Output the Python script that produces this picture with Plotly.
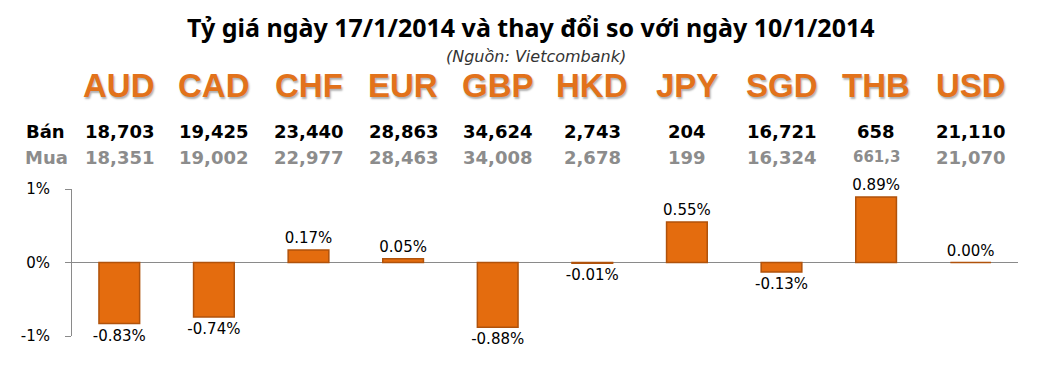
import plotly.graph_objects as go

currencies = ["AUD", "CAD", "CHF", "EUR", "GBP", "HKD", "JPY", "SGD", "THB", "USD"]
sell_rates = ["18,703", "19,425", "23,440", "28,863", "34,624", "2,743", "204", "16,721", "658", "21,110"]
buy_rates = ["18,351", "19,002", "22,977", "28,463", "34,008", "2,678", "199", "16,324", "661,3", "21,070"]
change_pct = [-0.83, -0.74, 0.17, 0.05, -0.88, -0.01, 0.55, -0.13, 0.89, 0.00]
tick_vals = [-1, 0, 1]
tick_text = ["-1%", "0%", "1%"]

W, H = 1050, 380
ML, MR, MT, MB = 72, 32, 189, 44
PH = H - MT - MB
PW = W - ML - MR

def py(px):
    return (H - MB - px) / PH

def pxx(px):
    return (px - ML) / PW

fig = go.Figure()
fig.add_trace(go.Bar(
    x=currencies, y=change_pct,
    marker=dict(color="#E46C0E", line=dict(color="#B0520B", width=1.5)),
    width=0.43,
    text=[f"{v:.2f}%" for v in change_pct],
    textposition="outside",
    constraintext="none",
    cliponaxis=False,
    textfont=dict(family="DejaVu Sans", size=15, color="#000000"),
    hoverinfo="skip",
))

annotations = []
annotations.append(dict(text="<b>Tỷ giá ngày 17/1/2014 và thay đổi so với ngày 10/1/2014</b>",
                        xref="paper", yref="paper", x=pxx(531), y=py(27), showarrow=False,
                        xanchor="center", yanchor="middle",
                        font=dict(family="Noto Sans", size=25, color="#000000")))
annotations.append(dict(text="<i>(Nguồn: Vietcombank)</i>",
                        xref="paper", yref="paper", x=pxx(536), y=py(56), showarrow=False,
                        xanchor="center", yanchor="middle",
                        font=dict(family="DejaVu Sans", size=16, color="#333333")))
for c, s, b in zip(currencies, sell_rates, buy_rates):
    annotations.append(dict(text=f"<b>{c}</b>", xref="x", yref="paper", x=c, y=py(85),
                            showarrow=False, xanchor="center", yanchor="middle",
                            font=dict(family="Liberation Sans", size=33, color="#E2721B",
                                      shadow="1px 2px 2px #B0B0B0")))
    annotations.append(dict(text=f"<b>{s}</b>", xref="x", yref="paper", x=c, y=py(131),
                            showarrow=False, xanchor="center", yanchor="middle",
                            font=dict(family="DejaVu Sans", size=18, color="#000000")))
    bsize = 15 if len(b.split(",")[-1]) == 1 else 18
    annotations.append(dict(text=f"<b>{b}</b>", xref="x", yref="paper", x=c, y=py(157),
                            showarrow=False, xanchor="center", yanchor="middle",
                            font=dict(family="DejaVu Sans", size=bsize, color="#8C8C8C")))
annotations.append(dict(text="<b>Bán</b>", xref="paper", yref="paper", x=pxx(24), y=py(131),
                        showarrow=False, xanchor="left", yanchor="middle",
                        font=dict(family="DejaVu Sans", size=18, color="#000000")))
annotations.append(dict(text="<b>Mua</b>", xref="paper", yref="paper", x=pxx(23), y=py(157),
                        showarrow=False, xanchor="left", yanchor="middle",
                        font=dict(family="DejaVu Sans", size=18, color="#8C8C8C")))

fig.update_layout(
    width=W, height=H,
    margin=dict(l=ML, r=MR, t=MT, b=MB, pad=0),
    paper_bgcolor="#FFFFFF", plot_bgcolor="#FFFFFF",
    showlegend=False,
    bargap=0.57,
    annotations=annotations,
    xaxis=dict(showticklabels=False, showgrid=False, zeroline=False, showline=False,
               ticks="", fixedrange=True),
    yaxis=dict(range=[-1, 1], tickvals=tick_vals, ticktext=tick_text,
               showgrid=True, gridcolor="#8A8A8A", gridwidth=1,
               zeroline=True, zerolinecolor="#8A8A8A", zerolinewidth=1,
               showline=True, linecolor="#8A8A8A", linewidth=1,
               ticks="outside", ticklen=6, tickcolor="#8A8A8A",
               ticklabelstandoff=12,
               tickfont=dict(family="DejaVu Sans", size=15, color="#000000"),
               fixedrange=True),
)

fig.write_html("out.html", config={"displayModeBar": False},
               post_script="document.body.style.margin='0';document.body.style.overflow='hidden';")
